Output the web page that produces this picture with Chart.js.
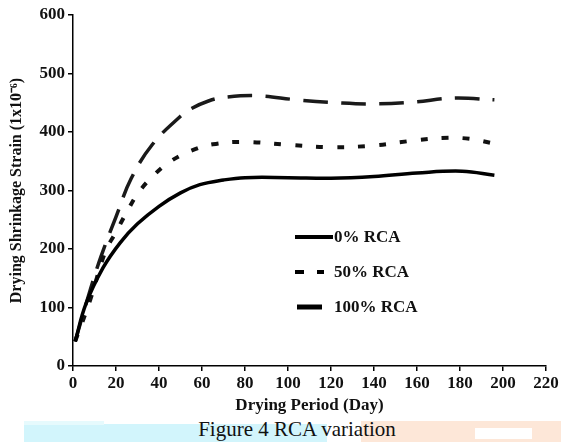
<!DOCTYPE html>
<html>
<head>
<meta charset="utf-8">
<script src="https://cdn.jsdelivr.net/npm/chart.js@4"></script>
<style>
  body { margin: 0; background: #fff; }
  #wrap { position: relative; width: 561px; height: 442px; overflow: hidden; }
  #chart { position: absolute; left: 0; top: 0; }
  .band { position: absolute; }
  #caption {
    position: absolute; left: 0; width: 594px; top: 417px;
    text-align: center; font: 21px "Liberation Serif", "Times New Roman", serif; color: #111;
  }
</style>
</head>
<body>
<div id="wrap">
  <div class="band" style="left:24px;top:424px;width:303px;height:18px;background:#d2f5fc"></div>
  <div class="band" style="left:24px;top:421px;width:80px;height:4px;background:#e6fafd"></div>
  <div class="band" style="left:361px;top:421px;width:200px;height:21px;background:#fde7d8"></div>
  <div class="band" style="left:475px;top:428px;width:57px;height:11px;background:#fff"></div>
  <div id="caption">Figure 4 RCA variation</div>
  <canvas id="chart" width="561" height="442"></canvas>
</div>
<script>
// values (day, strain x10^-6)
const days0 = [1, 6, 14, 22, 30, 40, 50, 59, 70, 80, 100, 120, 140, 160, 181, 196];
const rca0 = [42, 106, 168, 211, 243, 273, 296, 310, 318, 322, 322, 321, 324, 330, 333, 326];

const days50 = [1, 8, 15, 20, 25, 30, 37, 45, 55, 65, 80, 100, 120, 140, 160, 175, 185, 196];
const rca50 = [42, 113, 195, 229, 263, 294, 324, 349, 368, 379, 383, 378, 374, 377, 386, 390, 388, 380];

const days100 = [1, 8, 13, 20, 27, 37, 50, 55, 63, 70, 86, 104, 123, 140, 158, 177, 196];
const rca100 = [42, 130, 187, 255, 320, 379, 427, 440, 453, 459, 462, 455, 450, 448, 451, 458, 455];

const labels = ["0% RCA", "50% RCA", "100% RCA"];
const xTicks = [0, 20, 40, 60, 80, 100, 120, 140, 160, 180, 200, 220];
const yTicks = [0, 100, 200, 300, 400, 500, 600];

const serif = '"Liberation Serif", "Times New Roman", serif';
const pts = (xs, ys) => xs.map((x, i) => ({ x, y: ys[i] }));

/* legend drawn inside the plot */
const innerLegend = {
    id: "innerLegend",
    afterDraw(chart) {
        const { ctx, chartArea } = chart;
        const x0 = chartArea.left + 222;
        const rows = [222, 257, 292];
        ctx.save();
        ctx.strokeStyle = "#000";
        ctx.lineCap = "butt";
        // 0%
        ctx.lineWidth = 4;
        ctx.beginPath();
        ctx.moveTo(x0, chartArea.top + rows[0]);
        ctx.lineTo(x0 + 38, chartArea.top + rows[0]);
        ctx.stroke();
        // 50%
        ctx.setLineDash([9, 13]);
        ctx.beginPath();
        ctx.moveTo(x0, chartArea.top + rows[1]);
        ctx.lineTo(x0 + 29, chartArea.top + rows[1]);
        ctx.stroke();
        // 100%
        ctx.setLineDash([]);
        ctx.lineWidth = 5;
        ctx.beginPath();
        ctx.moveTo(x0 + 2, chartArea.top + rows[2]);
        ctx.lineTo(x0 + 27, chartArea.top + rows[2]);
        ctx.stroke();

        ctx.fillStyle = "#111";
        ctx.font = "bold 17px " + serif;
        ctx.textBaseline = "middle";
        labels.forEach((t, i) => ctx.fillText(t, x0 + 39, chartArea.top + rows[i] + 1));
        ctx.restore();
    }
};

new Chart(document.getElementById("chart"), {
    type: "line",
    data: {
        datasets: [
            {
                label: labels[0],
                data: pts(days0, rca0),
                borderColor: "#000",
                borderWidth: 3.5
            },
            {
                label: labels[1],
                data: pts(days50, rca50),
                borderColor: "#111",
                borderWidth: 4,
                borderDash: [7, 14]
            },
            {
                label: labels[2],
                data: pts(days100, rca100),
                borderColor: "#1a1a1a",
                borderWidth: 3.5,
                borderDash: [25, 13]
            }
        ]
    },
    options: {
        responsive: false,
        animation: false,
        layout: { padding: { left: 0, top: 15, right: 15, bottom: 26 } },
        plugins: {
            legend: { display: false },
            tooltip: { enabled: false }
        },
        elements: { point: { radius: 0 }, line: { tension: 0.4 } },
        scales: {
            x: {
                type: "linear",
                min: 0,
                max: 220,
                afterBuildTicks: s => { s.ticks = xTicks.map(v => ({ value: v })); },
                afterFit: s => { s.height = 50; },
                border: { color: "#000", width: 1.5 },
                grid: { drawOnChartArea: false, drawTicks: true, tickLength: 5, color: "#000", lineWidth: 1.5 },
                ticks: {
                    color: "#111",
                    padding: 2,
                    maxRotation: 0,
                    font: { family: serif, size: 17, weight: "bold" }
                },
                title: {
                    display: true,
                    text: "Drying Period (Day)",
                    color: "#111",
                    padding: { top: 0, bottom: 0 },
                    font: { family: serif, size: 17, weight: "bold" }
                }
            },
            y: {
                min: 0,
                max: 600,
                afterBuildTicks: s => { s.ticks = yTicks.map(v => ({ value: v })); },
                afterFit: s => { s.width = 73; },
                border: { color: "#000", width: 1.5 },
                grid: { drawOnChartArea: false, drawTicks: true, tickLength: 5, color: "#000", lineWidth: 1.5 },
                ticks: {
                    color: "#111",
                    padding: 3,
                    font: { family: serif, size: 17, weight: "bold" }
                },
                title: {
                    display: true,
                    text: "Drying Shrinkage Strain (1x10\u207B\u2076)",
                    color: "#111",
                    padding: { top: 7, bottom: 0 },
                    font: { family: serif, size: 16, weight: "bold" }
                }
            }
        }
    },
    plugins: [innerLegend]
});
</script>
</body>
</html>
